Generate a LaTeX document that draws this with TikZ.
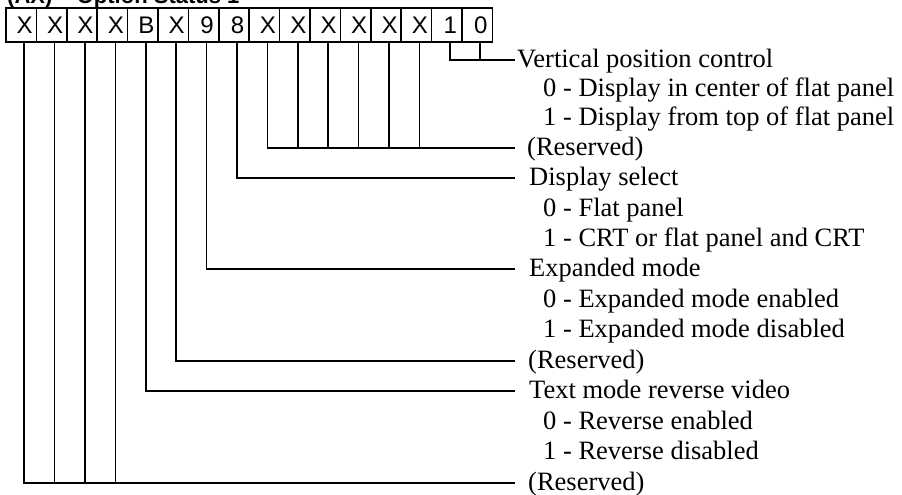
\documentclass[tikz,border=0pt]{standalone}
\usepackage{fontspec}
\setmainfont{Liberation Serif}
\setsansfont{Liberation Sans}
\usetikzlibrary{positioning}
\tikzset{
  bit/.style={draw, line width=1.5pt, minimum width=30.4pt, minimum height=34pt,
    inner sep=0pt, font=\sffamily\fontsize{24}{24}\selectfont},
  lab/.style={anchor=west, inner sep=0pt, text height=19pt, text depth=5pt,
    font=\fontsize{26.5}{30}\selectfont},
  wire/.style={line width=1.5pt},
}
\begin{document}
\begin{tikzpicture}[x=1pt, y=-1pt]
   \useasboundingbox (0,0) rectangle (902,495);
   \clip (0,0) rectangle (902,495);
   %titulo
   \node[anchor=base west, inner sep=0pt, font=\sffamily\bfseries\fontsize{22}{22}\selectfont] (titulo) at (7,4) {(AX) -- Option Status 1};
   %casillas
   \foreach \t [count=\i from 0] in {X,X,X,X,B,X,9,8,X,X,X,X,X,X,1,0}
      \node[bit] (b\i) at ({21.2+30.4*\i},25) {\hspace*{7pt}\t};
   %extremos de las lineas
   \coordinate (e0) at (515,60);
   \coordinate (e1) at (515,148);
   \coordinate (e2) at (515,178);
   \coordinate (e3) at (515,269);
   \coordinate (e4) at (515,361);
   \coordinate (e5) at (515,391);
   \coordinate (e6) at (515,483);
   %etiquetas
   \node[lab, right=2pt of e0] (vpos) {Vertical position control};
   \node[lab] (vpos0) at (543,89) {0 - Display in center of flat panel};
   \node[lab] (vpos1) at (543,118) {1 - Display from top of flat panel};
   \node[lab, right=12pt of e1] (resA) {(Reserved)};
   \node[lab, right=14pt of e2] (dsel) {Display select};
   \node[lab] (dsel0) at (543,209) {0 - Flat panel};
   \node[lab] (dsel1) at (543,239) {1 - CRT or flat panel and CRT};
   \node[lab, right=14pt of e3] (expm) {Expanded mode};
   \node[lab] (expm0) at (543,300) {0 - Expanded mode enabled};
   \node[lab] (expm1) at (543,330) {1 - Expanded mode disabled};
   \node[lab, right=13pt of e4] (resB) {(Reserved)};
   \node[lab, right=14pt of e5] (rvid) {Text mode reverse video};
   \node[lab] (rvid0) at (543,422) {0 - Reverse enabled};
   \node[lab] (rvid1) at (543,452) {1 - Reverse disabled};
   \node[lab, right=13pt of e6] (resC) {(Reserved)};
   %lineas
   \draw[wire] ([xshift=3pt]b14.south) |- (e0);
   \draw[wire] ([xshift=3pt]b15.south) -- ([xshift=3pt]b15.south |- e0);
   \draw[wire] ([xshift=3pt]b8.south) |- (e1);
   \foreach \i in {9,...,13}
      \draw[wire] ([xshift=3pt]b\i.south) -- ([xshift=3pt]b\i.south |- e1);
   \draw[wire] ([xshift=3pt]b7.south) |- (e2);
   \draw[wire] ([xshift=3pt]b6.south) |- (e3);
   \draw[wire] ([xshift=3pt]b5.south) |- (e4);
   \draw[wire] ([xshift=3pt]b4.south) |- (e5);
   \draw[wire] ([xshift=3pt]b0.south) |- (e6);
   \foreach \i in {1,2,3}
      \draw[wire] ([xshift=3pt]b\i.south) -- ([xshift=3pt]b\i.south |- e6);
\end{tikzpicture}
\end{document}
